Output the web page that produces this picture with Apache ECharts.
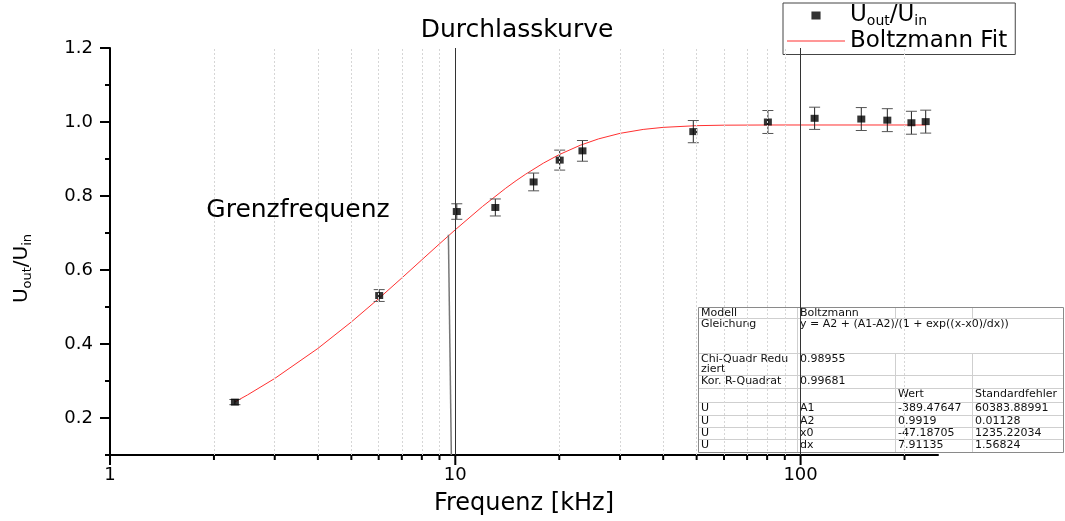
<!DOCTYPE html>
<html><head><meta charset="utf-8">
<script src="https://cdn.jsdelivr.net/npm/echarts@6/dist/echarts.min.js"></script>
<style>html,body{margin:0;padding:0;background:#fff}#c{width:1065px;height:521px}</style>
</head><body><div id="c"></div>
<script>
// ---- data ----
const freq      = [2.3, 6.02, 10.1, 13.06, 16.86, 20.06, 23.35, 48.9, 80.4, 109.8, 149.9, 178.3, 209.4, 230.3];
const ratio     = [0.243, 0.531, 0.758, 0.769, 0.838, 0.897, 0.922, 0.974, 1.000, 1.010, 1.008, 1.005, 0.998, 1.001];
const ratioErr  = [0.007, 0.016, 0.021, 0.023, 0.024, 0.027, 0.028, 0.030, 0.031, 0.030, 0.031, 0.031, 0.031, 0.031];
const fitFreq   = [2.3, 2.5, 3, 4, 5, 6, 7, 8, 9, 10, 12, 14, 15, 16, 18, 20, 23, 26, 30, 35, 40, 50, 60, 80, 100, 150, 230.3];
const fitRatio  = [0.2435, 0.2622, 0.3068, 0.3880, 0.4596, 0.5227, 0.5784, 0.6275, 0.6707, 0.7088, 0.7720, 0.8211, 0.8414, 0.8592, 0.8889, 0.9119, 0.9371, 0.9544, 0.9693, 0.9799, 0.9855, 0.9901, 0.9914, 0.9919, 0.9919, 0.9919, 0.9919];
const xMajorTicks = [1, 10, 100];
const xMinorTicks = [2, 3, 4, 5, 6, 7, 8, 9, 20, 30, 40, 50, 60, 70, 80, 90, 200];
const yMajorTicks = [0.2, 0.4, 0.6, 0.8, 1.0, 1.2];
const yMinorTicks = [0.1, 0.3, 0.5, 0.7, 0.9, 1.1];
const cutoffLine  = [[9.55, 0.695], [9.74, 0.1]];
const tableRows = [
  ['Modell', 'Boltzmann', '', ''],
  ['Gleichung', 'y = A2 + (A1-A2)/(1 + exp((x-x0)/dx))', '', ''],
  ['Chi-Quadr Redu\nziert', '0.98955', '', ''],
  ['Kor. R-Quadrat', '0.99681', '', ''],
  ['', '', 'Wert', 'Standardfehler'],
  ['U', 'A1', '-389.47647', '60383.88991'],
  ['U', 'A2', '0.9919', '0.01128'],
  ['U', 'x0', '-47.18705', '1235.22034'],
  ['U', 'dx', '7.91135', '1.56824']
];

const FONT = '"DejaVu Sans", "Liberation Sans", sans-serif';
const legendRich = {
  m: {fontFamily: FONT, fontSize: 23, color: '#000', lineHeight: 26},
  s: {fontFamily: FONT, fontSize: 14, color: '#000', verticalAlign: 'bottom', lineHeight: 10}
};
const axisRich = {
  m: {fontFamily: FONT, fontSize: 20, color: '#000', lineHeight: 24},
  s: {fontFamily: FONT, fontSize: 13, color: '#000', verticalAlign: 'bottom', lineHeight: 9}
};
const UNAME = 'Uout/Uin';
const FITNAME = 'Boltzmann Fit';

// table graphics
const colX = [698, 797, 895, 972, 1063];
const rowY = [307, 318, 353, 375, 388, 402, 415, 427, 439, 452];
const tbl = [];
tbl.push({type: 'rect', shape: {x: colX[0], y: rowY[0], width: colX[4] - colX[0], height: rowY[rowY.length - 1] - rowY[0]},
  style: {fill: '#fff', stroke: null}});
for (let r = 1; r < rowY.length - 1; r++) {
  tbl.push({type: 'line', shape: {x1: colX[0], y1: rowY[r] + 0.5, x2: colX[4], y2: rowY[r] + 0.5}, style: {stroke: '#cfcfcf', lineWidth: 1}});
}
for (let c = 1; c < colX.length - 1; c++) {
  for (let r = 0; r < rowY.length - 1; r++) {
    if (r === 1 && c > 1) continue;
    tbl.push({type: 'line', shape: {x1: colX[c] + 0.5, y1: rowY[r], x2: colX[c] + 0.5, y2: rowY[r + 1]}, style: {stroke: '#cfcfcf', lineWidth: 1}});
  }
}
tbl.push({type: 'rect', shape: {x: colX[0] + 0.5, y: rowY[0] + 0.5, width: colX[4] - colX[0], height: rowY[rowY.length - 1] - rowY[0]},
  style: {fill: null, stroke: '#8a8a8a', lineWidth: 1}});
tableRows.forEach((row, r) => {
  row.forEach((txt, c) => {
    if (!txt) return;
    tbl.push({type: 'text', x: colX[c] + 3, y: rowY[r] + 1.5,
      style: {text: txt, fill: '#111', font: '11px ' + FONT, textAlign: 'left', textVerticalAlign: 'top', lineHeight: 10}});
  });
});

const tickData = [];
xMajorTicks.forEach(v => tickData.push([v, 0.1, 0, 10]));
xMinorTicks.forEach(v => tickData.push([v, 0.1, 0, 5]));
yMajorTicks.forEach(v => tickData.push([1, v, 1, 10]));
yMinorTicks.forEach(v => tickData.push([1, v, 1, 5]));

const chart = echarts.init(document.getElementById('c'));
chart.setOption({
  backgroundColor: '#fff',
  animation: false,
  title: {text: 'Durchlasskurve', left: 512, top: 13, textAlign: 'center',
    textStyle: {fontFamily: FONT, fontSize: 25, fontWeight: 'normal', color: '#000'}},
  legend: {
    orient: 'vertical', left: 783, top: 3, itemWidth: 58, itemHeight: 8, itemGap: 1,
    padding: [1, 8, 2, 4], borderColor: '#444', borderWidth: 1, backgroundColor: '#fff',
    symbolKeepAspect: true,
    data: [{name: UNAME, icon: 'path://M0,0L8,0L8,7L0,7Z'},
           {name: FITNAME, icon: 'path://M0,0L58,0L58,1L0,1Z'}],
    formatter: n => n === UNAME ? '{m|U}{s|out}{m|/U}{s|in}' : '{m|' + n + '}',
    textStyle: {rich: legendRich}
  },
  grid: {left: 110, right: 127, top: 48, bottom: 62},
  xAxis: {
    type: 'log', logBase: 10, min: 1, max: 250,
    name: 'Frequenz [kHz]', nameLocation: 'middle', nameGap: 37,
    nameTextStyle: {fontFamily: FONT, fontSize: 24, color: '#000'},
    axisLine: {show: true, lineStyle: {color: '#000', width: 2}},
    axisTick: {show: false},
    splitLine: {show: false},
    axisLabel: {fontFamily: FONT, fontSize: 18, color: '#000', margin: 11,
      formatter: v => { const l = Math.log10(v); return (Math.abs(l - Math.round(l)) < 1e-6 && v < 200) ? String(Math.round(v)) : ''; }}
  },
  yAxis: {
    type: 'value', min: 0.1, max: 1.2, interval: 0.1,
    name: '{m|U}{s|out}{m|/U}{s|in}', nameLocation: 'middle', nameGap: 76,
    nameTextStyle: {rich: axisRich, padding: [0, 34, 0, 0]},
    axisLine: {show: true, lineStyle: {color: '#000', width: 2}},
    axisTick: {show: false},
    splitLine: {show: false},
    axisLabel: {fontFamily: FONT, fontSize: 18, color: '#000', margin: 17,
      formatter: v => (Math.round(v * 10) % 2 === 0) ? v.toFixed(1) : ''}
  },
  graphic: [
    {type: 'text', x: 298, y: 210, z: 50,
      style: {text: 'Grenzfrequenz', fill: '#000', font: '25px ' + FONT, textAlign: 'center', textVerticalAlign: 'middle'}},
    {type: 'group', z: 100, children: tbl}
  ],
  series: [
    {
      name: FITNAME, type: 'line', z: 2, showSymbol: false, symbol: 'none', smooth: false,
      lineStyle: {color: '#ff3030', width: 1}, itemStyle: {color: '#ff3030'},
      data: fitFreq.map((f, i) => [f, fitRatio[i]]),
      markLine: {
        silent: true, symbol: ['none', 'none'], label: {show: false}, animation: false,
        data: [
          ...xMinorTicks.map(v => ({xAxis: v, lineStyle: {color: '#d6d6d6', type: [2, 2], width: 1}})),
          ...xMajorTicks.slice(1).map(v => ({xAxis: v, lineStyle: {color: '#333', type: 'solid', width: 1}})),
          [{coord: cutoffLine[0], lineStyle: {color: '#777', type: 'solid', width: 1.5}}, {coord: cutoffLine[1]}]
        ]
      }
    },
    {
      name: 'errorbars', type: 'custom', z: 3, silent: true, clip: false,
      data: freq.map((f, i) => [f, ratio[i] - ratioErr[i], ratio[i] + ratioErr[i]]),
      encode: {x: 0, y: [1, 2]},
      renderItem: (params, api) => {
        const x = api.value(0);
        const a = api.coord([x, api.value(1)]), b = api.coord([x, api.value(2)]);
        const w = 5.5;
        return {type: 'group', children: [
          {type: 'line', shape: {x1: a[0], y1: a[1], x2: b[0], y2: b[1]}, style: {stroke: '#222', lineWidth: 1}},
          {type: 'line', shape: {x1: a[0] - w, y1: a[1], x2: a[0] + w, y2: a[1]}, style: {stroke: '#555', lineWidth: 1}},
          {type: 'line', shape: {x1: b[0] - w, y1: b[1], x2: b[0] + w, y2: b[1]}, style: {stroke: '#555', lineWidth: 1}}
        ]};
      }
    },
    {
      name: UNAME, type: 'scatter', z: 4, symbol: 'rect', symbolSize: [8, 7],
      itemStyle: {color: '#000'},
      data: freq.map((f, i) => [f, ratio[i]])
    },
    {
      name: 'ticks', type: 'custom', z: 5, silent: true, clip: false,
      data: tickData, encode: {x: 0, y: 1},
      renderItem: (params, api) => {
        const p = api.coord([api.value(0), api.value(1)]);
        const dir = api.value(2), len = api.value(3);
        const shape = dir === 0 ? {x1: p[0], y1: p[1], x2: p[0], y2: p[1] + len}
                                : {x1: p[0], y1: p[1], x2: p[0] - len, y2: p[1]};
        return {type: 'line', shape: shape, style: {stroke: '#000', lineWidth: 2}};
      }
    }
  ]
});
</script>
</body></html>
